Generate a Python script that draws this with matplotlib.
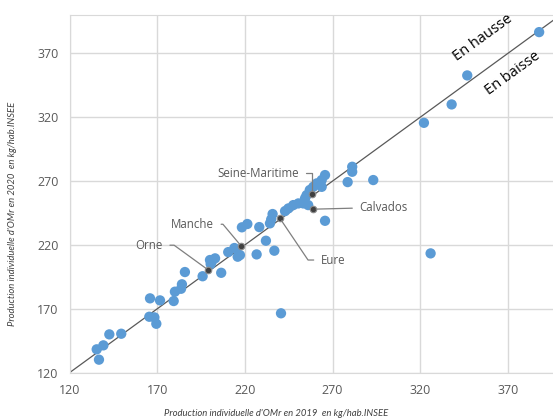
import matplotlib.pyplot as plt

# Production individuelle d'OMr (kg/hab.) par département : 2019 vs 2020
omr_2019 = [135.5, 139.3, 136.8, 142.7, 149.5, 165.9, 171.6, 165.5, 168.4, 169.5,
            179.4, 180.1, 184.1, 183.6, 185.8, 195.9, 201.1, 203.0, 200.5, 200.1,
            206.5, 210.5, 214.0, 215.9, 217.2, 218.3, 221.4, 228.2, 232.0, 226.7,
            236.8, 234.3, 235.8, 235.0, 242.9, 244.8, 247.6, 250.5, 254.3, 255.2,
            256.1, 253.3, 265.7, 240.6, 325.9, 265.7, 263.8, 261.0, 259.0, 263.8,
            281.2, 281.2, 278.6, 293.2, 322.1, 337.9, 346.8, 387.8, 257.0]
omr_2020 = [138.3, 141.4, 130.2, 150.0, 150.5, 178.2, 176.6, 163.8, 163.3, 158.3,
            176.1, 183.4, 189.2, 185.7, 198.8, 195.5, 206.9, 209.5, 205.0, 208.2,
            198.2, 214.4, 217.6, 210.8, 212.1, 233.8, 236.4, 234.0, 223.3, 212.6,
            215.5, 236.9, 244.2, 240.0, 246.5, 248.6, 251.2, 252.5, 256.5, 259.0,
            251.2, 252.5, 238.9, 166.5, 213.4, 274.7, 270.8, 268.2, 265.5, 265.5,
            281.2, 277.3, 269.2, 270.8, 315.6, 330.0, 352.7, 386.6, 263.0]

# Départements normands mis en évidence
noms = ["Seine-Maritime", "Calvados", "Eure", "Manche", "Orne"]
norm_2019 = [258.1, 259.0, 240.0, 218.0, 199.0]
norm_2020 = [259.7, 248.0, 240.8, 219.0, 200.5]

ticks = [120, 170, 220, 270, 320, 370]

bleu = '#5B9BD5'
gris_grille = '#D9D9D9'
gris_texte = '#595959'

fig = plt.figure(figsize=(5.53, 4.19), dpi=100)
ax = fig.add_axes([0.1257, 0.1105, 0.8743, 0.8537])

ax.set_xlim(120, 395.7)
ax.set_ylim(120, 400)
ax.set_xticks(ticks)
ax.set_yticks(ticks)
ax.grid(True, color=gris_grille, linewidth=1)
ax.set_axisbelow(True)
ax.tick_params(length=0, labelsize=9, labelcolor=gris_texte, pad=8)
for lab in ax.get_xticklabels() + ax.get_yticklabels():
    lab.set_fontfamily('Open Sans')
for side in ['left', 'top', 'bottom']:
    ax.spines[side].set_color(gris_grille)
ax.spines['right'].set_visible(False)

# Diagonale : production identique
ax.plot([120, 400], [120, 400], color='#595959', linewidth=0.9, zorder=2)

ax.scatter(omr_2019, omr_2020, s=55, color=bleu, edgecolors='none', zorder=3)
ax.scatter(norm_2019, norm_2020, s=22, color='#404040', edgecolors='#8C8C8C',
           linewidths=0.8, zorder=4)

# Étiquettes avec traits de rappel
pos_texte = [(251.0, 276.3), (285.2, 249.4), (263.2, 208.2), (202.5, 236.2), (173.3, 219.8)]
alignement = ['right', 'left', 'left', 'right', 'right']
connexion = ["angle,angleA=0,angleB=90,rad=0",
             "arc3,rad=0",
             "angle,angleA=0,angleB=-56,rad=0",
             "angle,angleA=0,angleB=-50,rad=0",
             "angle,angleA=0,angleB=-36,rad=0"]
for nom, x, y, pt, ha, cs in zip(noms, norm_2019, norm_2020, pos_texte, alignement, connexion):
    ax.annotate(nom, xy=(x, y), xytext=pt, ha=ha, va='center',
                fontsize=8.3, color=gris_texte, family='Open Sans',
                arrowprops=dict(arrowstyle='-', color='#7F7F7F', lw=0.9,
                                shrinkA=3, shrinkB=2, connectionstyle=cs),
                zorder=5)

ax.text(355.7, 381.9, "En hausse", rotation=36, ha='center', va='center',
        fontsize=10.5, family='Open Sans', color='black')
ax.text(372.7, 354.3, "En baisse", rotation=36, ha='center', va='center',
        fontsize=10.5, family='Open Sans', color='black')

fig.text(0.5, 1 - 413 / 419, "Production individuelle d'OMr en 2019  en kg/hab.INSEE",
         ha='center', va='center', fontsize=6.8, style='italic', color='#404040',
         family='Lato')
fig.text(13 / 553, 0.4905, "Production individuelle d'OMr en 2020  en kg/hab.INSEE",
         ha='center', va='center', rotation=90, fontsize=6.8, style='italic',
         color='#404040', family='Lato')

fig.savefig('out.png', dpi=100)
